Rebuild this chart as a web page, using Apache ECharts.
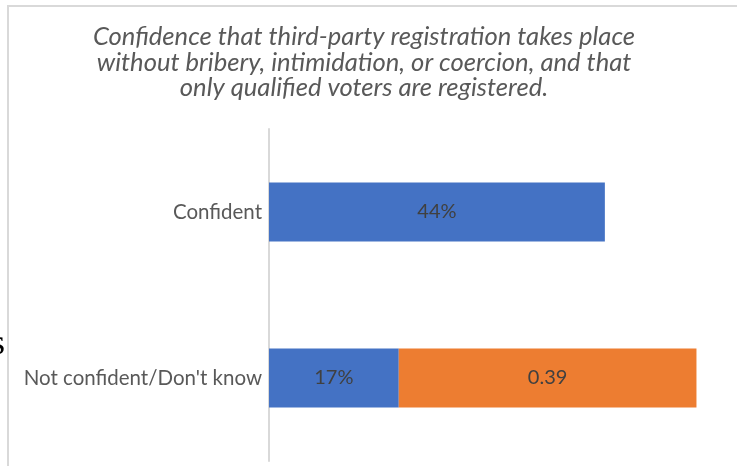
<!DOCTYPE html>
<html>
<head>
<meta charset="utf-8">
<script src="https://cdn.jsdelivr.net/npm/echarts@6/dist/echarts.min.js"></script>
<style>
  html, body { margin: 0; padding: 0; background: #ffffff; }
  #chart { width: 737px; height: 466px; }
</style>
</head>
<body>
<div id="chart"></div>
<script>
// Survey responses, top to bottom
const categories = ['Confident', 'Not confident/Don\'t know'];
// First segment of each bar (blue)
const primaryValues = [0.44, 0.17];
// Second segment, only on the lower bar (orange)
const secondaryValues = [null, 0.39];

const titleText = 'Confidence that third-party registration takes place\nwithout bribery, intimidation, or coercion, and that\nonly qualified voters are registered.';

const chart = echarts.init(document.getElementById('chart'));

chart.setOption({
  animation: false,
  backgroundColor: '#ffffff',
  title: {
    text: titleText,
    left: 359,
    top: 19,
    textAlign: 'center',
    textStyle: {
      fontFamily: 'Lato',
      fontStyle: 'italic',
      fontWeight: 'normal',
      fontSize: 25.6,
      lineHeight: 25.5,
      color: '#595959'
    }
  },
  graphic: [
    {
      type: 'rect',
      silent: true,
      shape: { x: 8, y: 6, width: 800, height: 520 },
      style: { fill: 'none', stroke: '#d9d9d9', lineWidth: 2 }
    },
    {
      type: 'text',
      silent: true,
      left: -9,
      top: 327,
      style: { text: 's', font: '36px "Liberation Serif", serif', fill: '#000000' }
    }
  ],
  grid: {
    left: 269,
    top: 129,
    width: 458,
    height: 332,
    containLabel: false
  },
  xAxis: {
    type: 'value',
    min: 0,
    max: 0.6,
    show: false
  },
  yAxis: {
    type: 'category',
    data: categories,
    inverse: true,
    axisLine: { show: true, lineStyle: { color: '#d9d9d9', width: 2 } },
    axisTick: { show: false },
    axisLabel: {
      margin: 7,
      fontFamily: 'Lato',
      fontSize: 20.5,
      color: '#595959'
    }
  },
  series: [
    {
      type: 'bar',
      stack: 'total',
      data: primaryValues,
      barWidth: 59,
      itemStyle: { color: '#4472C4' },
      label: {
        show: true,
        position: 'inside',
        fontFamily: 'Lato',
        fontSize: 20,
        color: '#404040',
        formatter: p => Math.round(p.value * 100) + '%'
      }
    },
    {
      type: 'bar',
      stack: 'total',
      data: secondaryValues,
      barWidth: 59,
      itemStyle: { color: '#ED7D31' },
      label: {
        show: true,
        position: 'inside',
        fontFamily: 'Lato',
        fontSize: 20,
        color: '#404040',
        formatter: p => String(p.value)
      }
    }
  ]
});
</script>
</body>
</html>
